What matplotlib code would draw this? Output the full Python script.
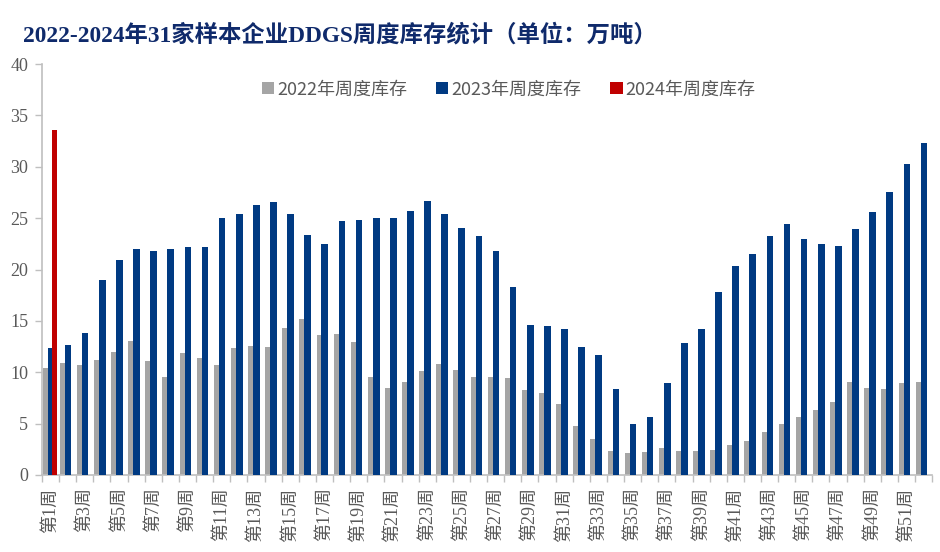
import matplotlib
matplotlib.use("Agg")
import matplotlib.pyplot as plt
import numpy as np

weeks = list(range(1, 53))
week_labels = [f"第{w}周" if w % 2 == 1 else "" for w in weeks]

inv_2022 = [10.4, 10.9, 10.7, 11.2, 12.0, 13.0, 11.1, 9.5, 11.9, 11.4,
            10.7, 12.4, 12.6, 12.5, 14.3, 15.2, 13.6, 13.7, 12.9, 9.5,
            8.5, 9.1, 10.1, 10.8, 10.2, 9.5, 9.5, 9.4, 8.3, 8.0,
            6.9, 4.8, 3.5, 2.3, 2.1, 2.2, 2.6, 2.3, 2.3, 2.4,
            2.9, 3.3, 4.2, 5.0, 5.6, 6.3, 7.1, 9.1, 8.5, 8.4,
            9.0, 9.1]
inv_2023 = [12.4, 12.7, 13.8, 19.0, 20.9, 22.0, 21.8, 22.0, 22.2, 22.2,
            25.0, 25.4, 26.3, 26.6, 25.4, 23.4, 22.5, 24.7, 24.8, 25.0,
            25.0, 25.7, 26.7, 25.4, 24.0, 23.3, 21.8, 18.3, 14.6, 14.5,
            14.2, 12.5, 11.7, 8.4, 5.0, 5.6, 9.0, 12.8, 14.2, 17.8,
            20.3, 21.5, 23.3, 24.4, 23.0, 22.5, 22.3, 23.9, 25.6, 27.5,
            30.3, 32.3]
inv_2024 = [33.6]

series_names = ["2022年周度库存", "2023年周度库存", "2024年周度库存"]
colors = ["#A5A5A5", "#003A82", "#C00000"]

fig = plt.figure(figsize=(9.4, 5.52), dpi=100)
ax = fig.add_axes([0.0447, 0.1395, 0.947, 0.7445])

x = np.array(weeks, dtype=float)
ax.bar(x - 0.32, inv_2022, width=0.29, color=colors[0], label=series_names[0], zorder=2)
ax.bar(x + 0.02, inv_2023, width=0.39, color=colors[1], label=series_names[1], zorder=3)
ax.bar(x[:len(inv_2024)] + 0.22, inv_2024, width=0.31, color=colors[2], label=series_names[2], zorder=4)

ax.set_xlim(0.5, 52.5)
ax.set_ylim(0, 40)
ax.set_yticks(np.arange(0, 41, 5))

serif = ["Liberation Serif", "Noto Sans CJK SC"]
ax.set_yticklabels([str(v) for v in range(0, 41, 5)], family=serif, fontsize=13, color="#595959")

ax.set_xticks(x)
ax.set_xticklabels(week_labels, rotation=90, family=serif, fontsize=13, color="#595959")
ax.tick_params(axis="x", length=0, pad=9)
# category boundary ticks
ax.set_xticks(np.arange(0.5, 53.0, 1.0), minor=True)
ax.tick_params(axis="x", which="minor", length=5, color="#BFBFBF", width=1)
ax.tick_params(axis="y", length=5, color="#BFBFBF", width=1, pad=5)

for s in ["top", "right"]:
    ax.spines[s].set_visible(False)
for s in ["left", "bottom"]:
    ax.spines[s].set_color("#BFBFBF")
    ax.spines[s].set_linewidth(1.2)

leg = ax.legend(loc="upper center", bbox_to_anchor=(0.524, 1.0), ncol=3, frameon=False,
                prop={"family": ["Noto Sans CJK SC", "DejaVu Sans"], "size": 13},
                handlelength=0.7, handleheight=0.7, handletextpad=0.15, columnspacing=1.6,
                labelcolor="#595959")

fig.text(0.024, 0.936, "2022-2024年31家样本企业DDGS周度库存统计（单位：万吨）",
         family=["Liberation Serif", "Noto Sans CJK SC"], fontsize=16.8, fontweight="bold",
         color="#0F2A6B", ha="left", va="center")

fig.savefig("out.png", dpi=100)
